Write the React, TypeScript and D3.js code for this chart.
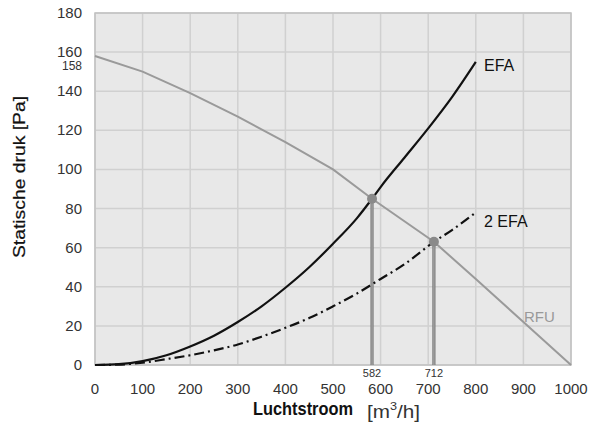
import React from "react";
import * as d3 from "d3";

const xTicks = [0, 100, 200, 300, 400, 500, 600, 700, 800, 900, 1000];
const yTicks = [0, 20, 40, 60, 80, 100, 120, 140, 160, 180];

const efaX = [0, 50, 100, 150, 200, 250, 300, 350, 400, 450, 500, 550, 582, 600, 650, 700, 750, 800];
const efaY = [0, 0.4, 2, 5, 9.5, 15, 22, 30, 39.5, 50, 62, 75, 85, 91, 106, 121, 137, 155];

const efa2X = [0, 50, 100, 150, 200, 250, 300, 350, 400, 450, 500, 550, 600, 650, 712, 750, 800];
const efa2Y = [0, 0.2, 1.2, 3, 5, 7.5, 10.5, 14.5, 19, 24, 30, 36.5, 44, 51.5, 63, 69, 78];

const rfuX = [0, 100, 200, 300, 400, 500, 582, 712, 800, 900, 1000];
const rfuY = [158, 150, 139, 127, 114, 100, 85, 63, 44, 22, 0];

const opX = [582, 712];
const opY = [85, 63];

export default function App() {
  const W = 606, H = 432;
  const L = 95, R = 571, T = 13, B = 365;
  const x = d3.scaleLinear().domain([0, 1000]).range([L, R]);
  const y = d3.scaleLinear().domain([0, 180]).range([B, T]);
  const line = d3.line<[number, number]>().x(d => x(d[0])).y(d => y(d[1])).curve(d3.curveMonotoneX);
  const efa = line(efaX.map((v, i) => [v, efaY[i]]) as [number, number][]) || "";
  const efa2 = line(efa2X.map((v, i) => [v, efa2Y[i]]) as [number, number][]) || "";
  const rfu = d3.line<[number, number]>().x(d => x(d[0])).y(d => y(d[1]))(rfuX.map((v, i) => [v, rfuY[i]]) as [number, number][]) || "";
  const font = "'Liberation Sans', Arial, sans-serif";
  return (
    <svg width={W} height={H} style={{ position: "absolute", left: 0, top: 0, background: "#fff" }}>
      <rect x={L} y={T} width={R - L} height={B - T} fill="#e8e8e8" />
      {xTicks.map(t => (
        <line key={"gx" + t} x1={x(t)} x2={x(t)} y1={T} y2={B} stroke="#d0d0d0" strokeWidth={1.5} />
      ))}
      {yTicks.map(t => (
        <line key={"gy" + t} x1={L} x2={R} y1={y(t)} y2={y(t)} stroke="#d0d0d0" strokeWidth={1.5} />
      ))}
      <rect x={L} y={T} width={R - L} height={B - T} fill="none" stroke="#c2c2c2" strokeWidth={1.5} />
      {opX.map((v, i) => (
        <g key={"op" + i}>
          <line x1={x(v)} x2={x(v)} y1={y(opY[i])} y2={B} stroke="#7a7a7a" strokeWidth={3.2} />
          <line x1={x(v)} x2={x(v)} y1={y(opY[i])} y2={B} stroke="#b0b0b0" strokeWidth={1} />
        </g>
      ))}
      <path d={rfu} fill="none" stroke="#9a9a9a" strokeWidth={2} />
      <path d={efa2} fill="none" stroke="#111" strokeWidth={2.2} strokeDasharray="10,4,2,4" />
      <path d={efa} fill="none" stroke="#111" strokeWidth={2.2} />
      {opX.map((v, i) => (
        <circle key={"c" + i} cx={x(v)} cy={y(opY[i])} r={5} fill="#8a8a8a" />
      ))}
      {yTicks.map(t => (
        <text key={"yt" + t} x={82} y={y(t) + 5} textAnchor="end" fontFamily={font} fontSize={15} fill="#333">{t}</text>
      ))}
      <text x={82} y={70} textAnchor="end" fontFamily={font} fontSize={12} fill="#333">158</text>
      {xTicks.map(t => (
        <text key={"xt" + t} x={x(t)} y={394} textAnchor="middle" fontFamily={font} fontSize={15} fill="#333">{t}</text>
      ))}
      {opX.map(v => (
        <text key={"ol" + v} x={x(v)} y={377} textAnchor="middle" fontFamily={font} fontSize={11} fill="#333">{v}</text>
      ))}
      <text x={484} y={71} fontFamily={font} fontSize={16} fill="#111">EFA</text>
      <text x={484} y={227} fontFamily={font} fontSize={16} fill="#111">2 EFA</text>
      <text x={524} y={322} fontFamily={font} fontSize={15} fill="#999">RFU</text>
      <text transform={`translate(25, 177) rotate(-90)`} textAnchor="middle" fontFamily={font} fontSize={16} fill="#111" stroke="#111" strokeWidth={0.2} textLength={162} lengthAdjust="spacingAndGlyphs">Statische druk [Pa]</text>
      <text x={253} y={415} fontFamily={font} fontWeight="bold" fontSize={19} fill="#111" textLength={100} lengthAdjust="spacingAndGlyphs">Luchtstroom</text>
      <text x={367} y={418} fontFamily={font} fontSize={18} fill="#333" textLength={53} lengthAdjust="spacingAndGlyphs">[m<tspan fontSize={11} dy={-8}>3</tspan><tspan dy={8}>/h]</tspan></text>
    </svg>
  );
}
